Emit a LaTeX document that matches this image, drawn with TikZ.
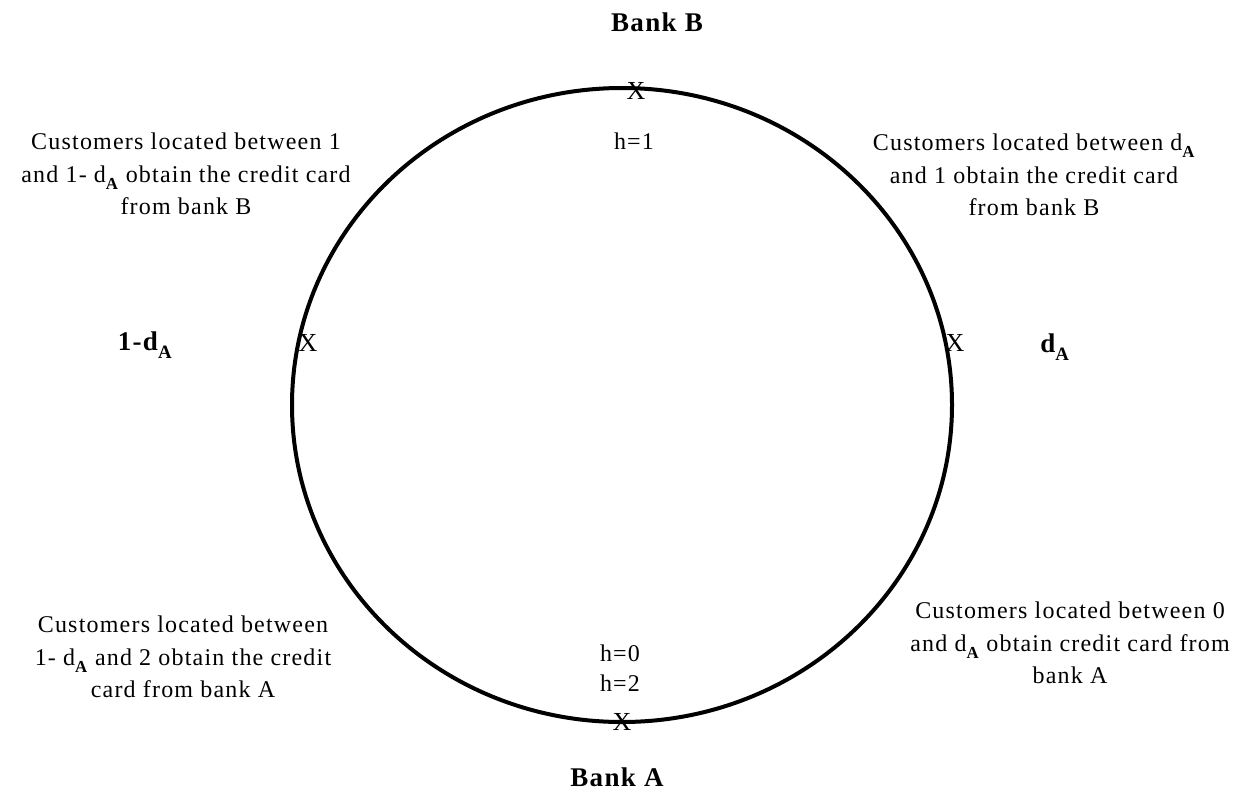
\documentclass[tikz,border=0pt]{standalone}
\usepackage{fontspec}
\setmainfont{Liberation Serif}[LetterSpace=5]
\newcommand{\dA}{d\raisebox{-0.3ex}{\textsubscript{\bfseries A}}}

\begin{document}
\begin{tikzpicture}[x=1pt,y=-1pt,
    txt/.style={font=\fontsize{24}{32.5}\selectfont,align=center,inner sep=0pt},
    banklbl/.style={font=\fontsize{27}{30}\selectfont\bfseries,inner sep=0pt},
    xmark/.style={font=\fontsize{26}{26}\selectfont,inner sep=0pt}]
    \useasboundingbox (0,0) rectangle (1244,798);
    \draw[line width=4pt] (622,405) ellipse [x radius=330,y radius=317];
    % marks on the circle
    \node[xmark] (xtop) at (636,91) {X};
    \node[xmark] (xleft) at (308,343) {X};
    \node[xmark] (xright) at (955,343) {X};
    \node[xmark] (xbot) at (622,722) {X};
    \node[banklbl] (bankB) at (657,22) {Bank B};
    \node[banklbl] (bankA) at (617,777) {Bank A};
    \node[banklbl] (oneminus) at (145,345) {1-\dA};
    \node[banklbl] (dright) at (1055,347) {\dA};
    \node[txt] (h1) at (634,141) {h=1};
    \node[txt] (h0) at (620,653) {h=0};
    \node[txt] (h2) at (620,683) {h=2};
    % customer groups
    \node[txt] (topleft) at (186,174) {Customers located between 1\\and 1- \dA{} obtain the credit card\\from bank B};
    \node[txt] (topright) at (1034,175) {Customers located between \dA\\and 1 obtain the credit card\\from bank B};
    \node[txt] (botleft) at (183,657) {Customers located between\\1- \dA{} and 2 obtain the credit\\card from bank A};
    \node[txt] (botright) at (1070,643) {Customers located between 0\\and \dA{} obtain credit card from\\bank A};
  \end{tikzpicture}
\end{document}
